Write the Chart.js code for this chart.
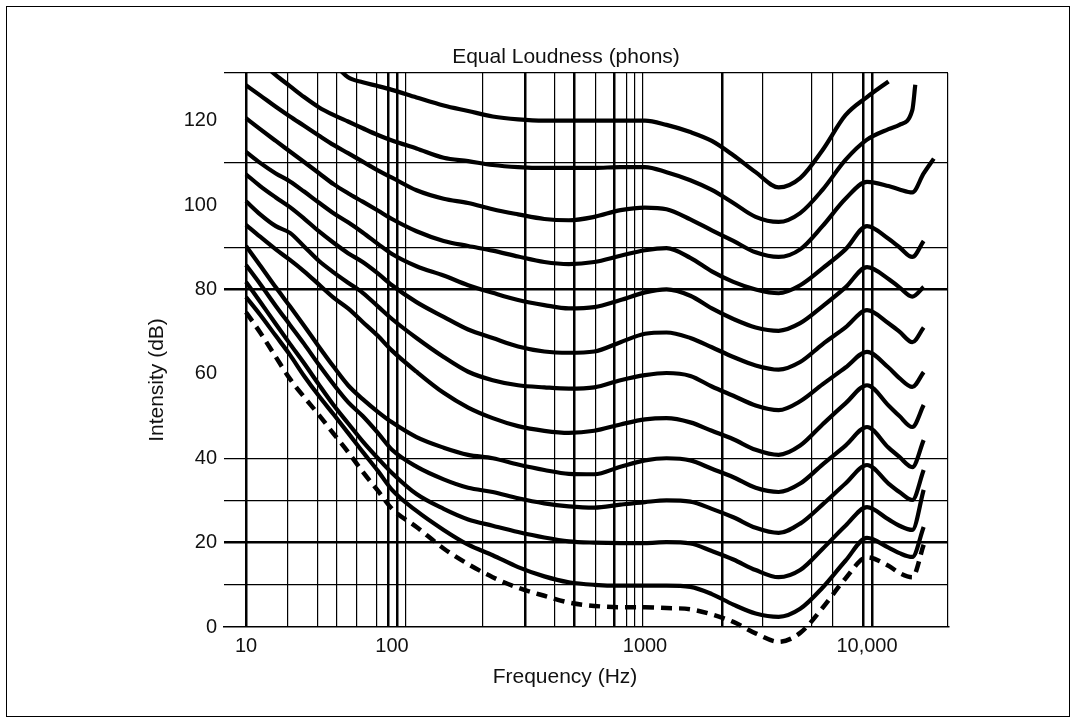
<!DOCTYPE html>
<html>
<head>
<meta charset="utf-8">
<title>Equal Loudness (phons)</title>
<script src="https://cdn.jsdelivr.net/npm/chart.js@4.4.1/dist/chart.umd.min.js"></script>
<style>
  html, body { margin: 0; padding: 0; background: #fff; }
  #wrap { position: relative; width: 1076px; height: 723px; }
  #frame { position: absolute; left: 6px; top: 6px; width: 1062px; height: 709px; border: 1px solid #000; pointer-events: none; }
</style>
</head>
<body>
<div id="wrap">
  <canvas id="chartLoudness" width="1076" height="723"></canvas>
  <div id="frame"></div>
</div>
<script>
// frequencies (Hz) shared by every curve
const freqs = [10, 12.5, 16, 20, 25, 31.5, 40, 50, 63, 80, 100, 125, 160, 200, 250, 315, 400, 500, 630, 800,
  1000, 1250, 1600, 2000, 2500, 3150, 4000, 5000, 6300, 8000, 10000, 12500, 14000, 16000, 16500, 18000, 20000];

// intensity (dB) of each equal loudness curve
const phon120 = [null, null, null, null, null, null, 133.5, 130.3, 129.1, 128.2, 127.3, 125.5, 123.6, 122.3, 121, 120.3, 120, 120, 120, 120,
  120, 119, 117.3, 115.2, 111.8, 107.8, 104.2, 106.4, 113, 121.3, 125.6, 129.3, null, null, null, null, null];
const phon110 = [null, 134, 130.8, 128.2, 125.6, 123.2, 121.3, 119.8, 118.2, 116.6, 115.3, 113.4, 111.2, 110.4, 109.5, 109, 108.8, 108.8, 108.8, 109,
  109, 107.8, 105.9, 103.6, 100.5, 97.2, 96, 98.1, 103.6, 110.7, 115.5, 118, 119, 122.5, 128.5, null, null];
const phon100 = [128.4, 126, 123.3, 121, 118.8, 116.5, 114.2, 112.3, 110.3, 108.2, 106.5, 103.5, 101.5, 100.5, 99, 97.8, 96.7, 96.4, 97.2, 98.8,
  99.4, 99, 96.6, 94, 91.5, 88.8, 87.7, 89.5, 95, 101.5, 105.5, 104.5, 103.7, 103, null, 107.5, 111];
const phon90 = [120.6, 118, 115.2, 112.7, 110.2, 107.6, 104.9, 102.8, 100.8, 98.7, 96.7, 93.8, 91.5, 90.3, 89.2, 87.8, 86.5, 86, 86.5, 88,
  89.3, 89.8, 87.5, 84.3, 81.8, 80, 79.1, 81, 85, 89.5, 95, 92, 90, 87.7, null, 91.5, null];
const phon80 = [112.6, 110, 107.5, 105.6, 103.2, 100.6, 98, 95.9, 93.5, 90.8, 88.4, 85.5, 83.3, 81, 79.2, 77.5, 76.3, 75.5, 75.8, 77.5,
  79.3, 80, 78.5, 75.5, 73, 71, 70.2, 72, 76, 80.5, 85.3, 82.5, 80.5, 78.3, null, 80.6, null];
const phon70 = [107.3, 104.5, 101.8, 99.5, 96.8, 93.8, 91, 88.6, 86.5, 83.8, 81, 77, 73.5, 70.5, 68.5, 66.5, 65.3, 65, 65.3, 67.5,
  69.5, 69.8, 68.5, 66.3, 64, 62, 61, 62.8, 67, 71, 75.1, 72, 70, 67.5, null, 71, null];
const phon60 = [100.9, 97.8, 95, 93.4, 90.2, 86.8, 84, 81.6, 79.2, 76, 73, 68.5, 64, 60.5, 58.5, 57.3, 56.8, 56.5, 56.8, 58.5,
  59.7, 60.2, 59.5, 57, 54.8, 52.5, 51.4, 53.5, 57.5, 61.5, 65.2, 61.5, 59, 56.9, null, 60.4, null];
const phon50 = [95.3, 92.5, 89.5, 87, 84.3, 81.2, 78, 75.5, 72.3, 69, 65.5, 60.5, 55.5, 52, 49.5, 47.6, 46.5, 46, 46.5, 48,
  49.2, 49.5, 48.5, 46.5, 44.5, 42, 40.8, 43, 48, 53, 57.3, 52.5, 50, 47.4, null, 52.6, null];
const phon40 = [90.3, 85.7, 80.5, 76, 71.4, 66.5, 61.6, 57.3, 54, 51, 48.5, 45, 42.5, 40.8, 40, 38.5, 37.2, 36.3, 36.2, 38,
  39.5, 40, 39.5, 37.5, 35.5, 33, 32, 34, 38.5, 43, 47.4, 42.5, 40.3, 37.9, null, 44.3, null];
const phon30 = [85.8, 81.3, 76.1, 71.6, 67.1, 62.2, 57.4, 53.3, 50, 46, 42, 38, 35, 33, 32, 30.5, 29.3, 28.6, 28.3, 29,
  29.6, 30, 29.7, 28, 26, 23.5, 22.3, 24.5, 29, 34, 38.4, 34, 32, 30.1, null, 37.2, null];
const phon20 = [81.8, 77.1, 71.8, 67.1, 62.5, 57.5, 52.5, 48.3, 44, 40, 36.5, 31.5, 28, 25.5, 24, 22.5, 21.2, 20.3, 20, 19.9,
  19.9, 20.1, 19.8, 18, 16, 13.5, 11.8, 13.5, 18.5, 24, 28.4, 25.5, 24, 23, null, 32.5, null];
const phon10 = [78.2, 74, 69, 64.5, 59.5, 54.8, 50.3, 46, 41.5, 37, 32.5, 27.5, 23, 19.5, 17, 14.2, 12, 10.6, 10, 9.8,
  9.8, 9.8, 9.5, 7.8, 5.3, 3.2, 2.4, 4.3, 9.3, 15.7, 21.1, 18.8, 17.5, 16.6, null, 23.7, null];
// threshold of hearing (dashed)
const threshold = [74.6, 69.8, 64, 58.8, 54.5, 50.3, 45.7, 41.5, 36.8, 32.3, 28, 23.7, 18.6, 14.9, 11.8, 9.3, 7.4, 5.8, 5, 4.7,
  4.7, 4.5, 4.2, 3, 1.2, -1.5, -3.5, -1.4, 4.5, 11.5, 16.5, 14.5, 12.8, 11.8, null, 19.5, null];

// axis ticks
const xLabels = {10: '10', 100: '100', 1000: '1000', 10000: '10,000'};
const xGridFreqs = [10, 19.4, 31.1, 42, 57.6, 78.9, 93.9, 104.7, 113.6, 229, 336, 441, 524, 640, 754, 849, 913, 982,
  2222, 3401, 5653, 7026, 9594, 10532];
const xGridThick = [10, 93.9, 104.7, 336, 524, 754, 2222, 9594, 10532];
const yTicks = [0, 10, 20, 30, 40, 60, 80, 90, 100, 110, 120];
const yGridLines = [10, 20, 30, 40, 80, 90, 110];
const yGridThick = [20, 80];

const xMin = 7.07, xMax = 23170, yMax = 131.3;

// log axis whose decades are not all the same width, like the printed figure
const decadeWidths = [22, 146, 253, 222, 81];
class WarpedLogScale extends Chart.LogarithmicScale {
  static id = 'warpedLog';
  anchors() {
    const logs = [Math.log10(this.min), 1, 2, 3, 4, Math.log10(this.max)];
    const total = decadeWidths.reduce((a, b) => a + b, 0);
    let acc = 0;
    const fr = [0];
    decadeWidths.forEach(w => { acc += w; fr.push(acc / total); });
    return {logs, fr};
  }
  getPixelForValue(value) {
    if (value === null || value === undefined || isNaN(value) || value <= 0) return NaN;
    const {logs, fr} = this.anchors();
    const l = Math.log10(value);
    let i = 0;
    while (i < logs.length - 2 && l > logs[i + 1]) i++;
    const d = fr[i] + (l - logs[i]) / (logs[i + 1] - logs[i]) * (fr[i + 1] - fr[i]);
    return this.getPixelForDecimal(d);
  }
  getValueForPixel(pixel) {
    const {logs, fr} = this.anchors();
    const d = this.getDecimalForPixel(pixel);
    let i = 0;
    while (i < fr.length - 2 && d > fr[i + 1]) i++;
    return Math.pow(10, logs[i] + (d - fr[i]) / (fr[i + 1] - fr[i]) * (logs[i + 1] - logs[i]));
  }
}
Chart.register(WarpedLogScale);

const curves = [phon120, phon110, phon100, phon90, phon80, phon70, phon60, phon50, phon40, phon30, phon20, phon10];

function toPoints(vals) {
  return freqs.map((f, i) => ({x: f, y: vals[i]}));
}

const datasets = curves.map((vals, i) => ({
  label: (120 - i * 10) + ' phons',
  data: toPoints(vals),
  borderColor: '#000',
  borderWidth: 4.2,
  pointRadius: 0,
  spanGaps: true,
  cubicInterpolationMode: 'monotone'
}));
datasets.push({
  label: 'threshold',
  data: toPoints(threshold),
  borderColor: '#000',
  borderWidth: 4.5,
  borderDash: [11, 7],
  pointRadius: 0,
  spanGaps: true,
  cubicInterpolationMode: 'monotone',
  clip: false
});

const textFont = '"Liberation Sans", Arial, Helvetica, sans-serif';

// titles sit off-centre in the original figure, so they are placed by hand
const titles = {
  id: 'titles',
  afterDraw(chart) {
    const ctx = chart.ctx;
    ctx.save();
    ctx.fillStyle = '#111';
    ctx.font = '21px ' + textFont;
    ctx.textAlign = 'center';
    ctx.textBaseline = 'middle';
    ctx.fillText('Equal Loudness (phons)', 566, 57);
    ctx.fillText('Frequency (Hz)', 565, 677);
    ctx.translate(157, 380);
    ctx.rotate(-Math.PI / 2);
    ctx.fillText('Intensity (dB)', 0, 0);
    ctx.restore();
  }
};

const ctx = document.getElementById('chartLoudness');
let grafico = new Chart(ctx, {
  type: 'line',
  data: {datasets: datasets},
  plugins: [titles],
  options: {
    responsive: false,
    animation: false,
    layout: {padding: {left: 0, right: 128, top: 73, bottom: 65}},
    plugins: {legend: {display: false}, tooltip: {enabled: false}},
    scales: {
      x: {
        type: 'warpedLog',
        min: xMin,
        max: xMax,
        afterBuildTicks: s => { s.ticks = [...new Set([...xGridFreqs, 100, 1000, 10000, xMax])].sort((a, b) => a - b).map(v => ({value: v})); },
        afterFit: s => { s.height = 31; },
        ticks: {
          autoSkip: false,
          maxRotation: 0,
          padding: 7,
          color: '#111',
          font: {family: textFont, size: 20},
          callback: v => xLabels[v] || ''
        },
        grid: {
          drawTicks: false,
          color: c => (xGridFreqs.includes(c.tick.value) || c.tick.value === xMax) ? '#000' : 'rgba(0,0,0,0)',
          lineWidth: c => xGridThick.includes(c.tick.value) ? 2.5 : 1.2
        },
        border: {display: true, color: '#000', width: 1.5}
      },
      y: {
        type: 'linear',
        min: 0,
        max: yMax,
        afterBuildTicks: s => { s.ticks = [...yTicks, yMax].map(v => ({value: v})); },
        afterFit: s => { s.width = 224; },
        ticks: {
          padding: 7,
          color: '#111',
          font: {family: textFont, size: 20},
          callback: v => (v % 20 === 0 && v <= 120) ? v : ''
        },
        grid: {
          drawTicks: false,
          color: c => (yGridLines.includes(c.tick.value) || c.tick.value === yMax) ? '#000' : 'rgba(0,0,0,0)',
          lineWidth: c => yGridThick.includes(c.tick.value) ? 2.5 : 1.2
        },
        border: {display: false}
      }
    }
  }
});
</script>
</body>
</html>
